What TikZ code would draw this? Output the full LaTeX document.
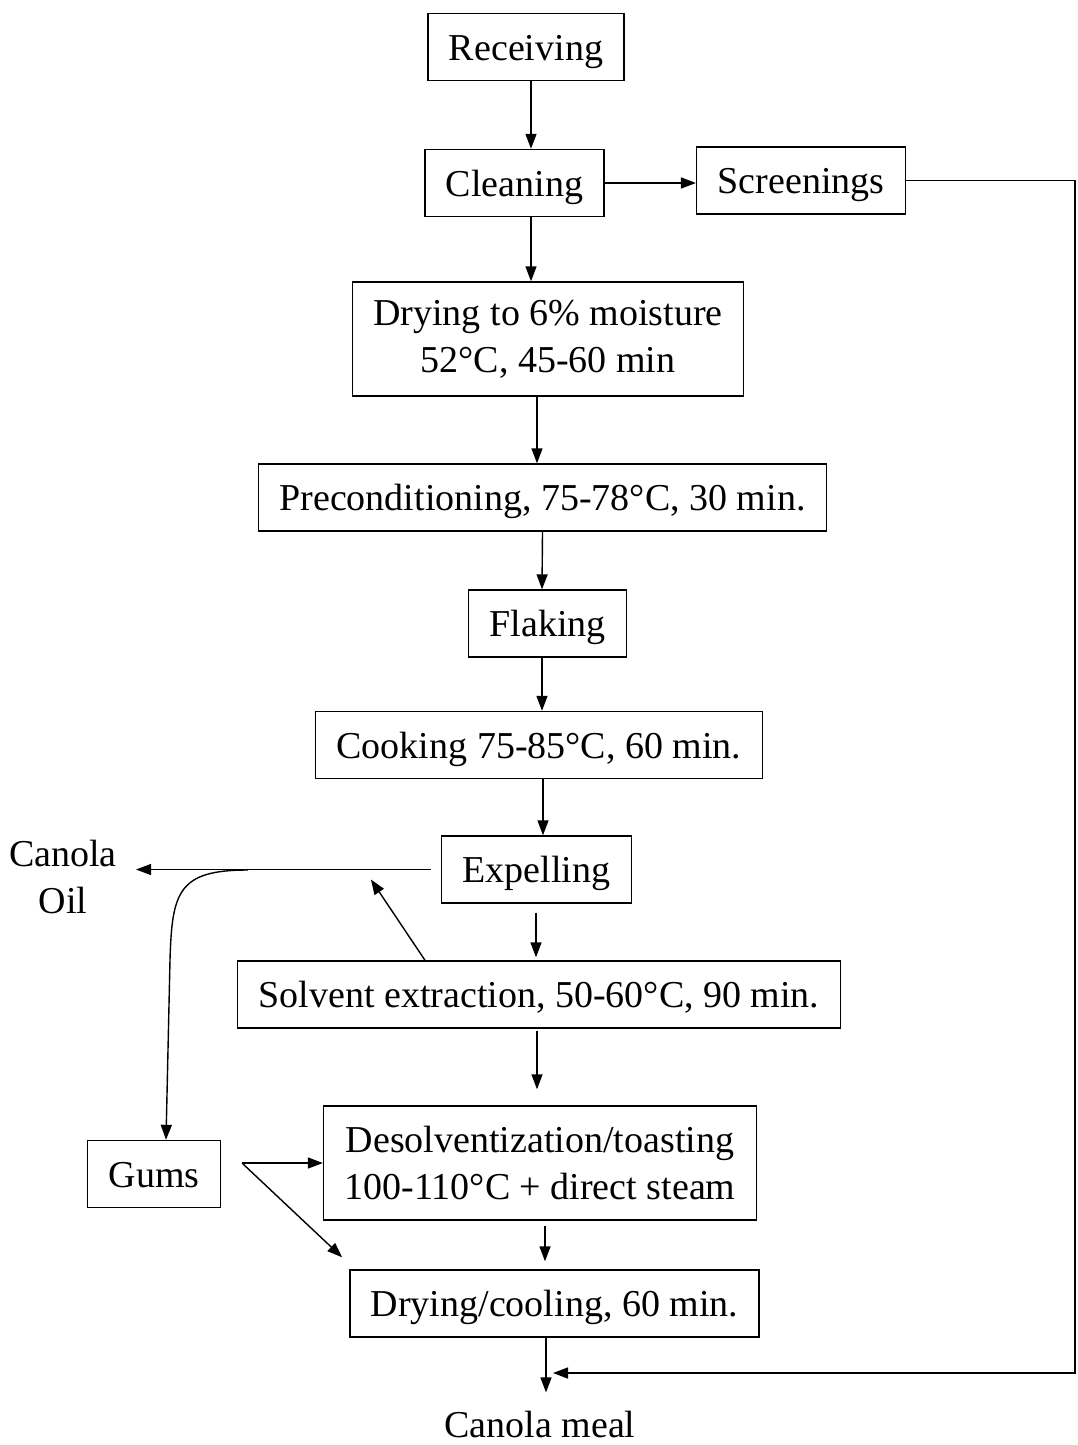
\documentclass[tikz,border=0pt]{standalone}
\usepackage{fontspec}
\setmainfont{Liberation Serif}
\usetikzlibrary{arrows.meta}

\begin{document}
\begin{tikzpicture}[x=1pt,y=-1pt,font=\fontsize{38}{47}\selectfont]
\tikzstyle{stepbox} = [rectangle, draw=black, line width=1.4pt, inner xsep=21pt, inner ysep=0pt, minimum height=67pt, text height=34pt, text depth=8pt, align=center]
\tikzstyle{tallbox} = [stepbox, minimum height=114pt, text height=, text depth=, execute at begin node={\rule{0pt}{36pt}}]
\tikzstyle{product} = [align=center, inner sep=0pt]
\tikzstyle{flow} = [-{Triangle[length=15pt,width=11pt]}, line width=1.4pt]

\useasboundingbox (0,0) rectangle (1077,1445);

\node(receiving) [stepbox] at (526,47) {Receiving};
\node(cleaning) [stepbox] at (514.5,183) {Cleaning};
\node(screenings) [stepbox] at (801,180.5) {Screenings};
\node(drying) [tallbox] at (548,339) {Drying to 6\% moisture\\52°C, 45-60 min};
\node(precond) [stepbox] at (542.5,497.5) {Preconditioning, 75-78°C, 30 min.};
\node(flaking) [stepbox] at (547.5,623.5) {Flaking};
\node(cooking) [stepbox] at (539,745) {Cooking 75-85°C, 60 min.};
\node(expelling) [stepbox] at (536.5,869.5) {Expelling};
\node(solvent) [stepbox] at (539,994.5) {Solvent extraction, 50-60°C, 90 min.};
\node(desolv) [tallbox] at (540,1163) {Desolventization/toasting\\100-110°C + direct steam};
\node(gums) [stepbox] at (154,1174) {Gums};
\node(cooling) [stepbox] at (554.5,1303.5) {Drying/cooling, 60 min.};
\node(oil) [product] at (63,877) {Canola\\Oil};
\node(meal) [product, anchor=base] at (540,1437) {Canola meal};

\coordinate(split) at (248,870);
\coordinate(fork) at (242,1163);
\coordinate(join) at (553,1373);

% main line
\draw[flow] ([xshift=5]receiving.south) -- ([xshift=16.5]cleaning.north);
\draw[flow] ([xshift=16.5]cleaning.south) -- ([xshift=-17]drying.north);
\draw[flow] ([xshift=-11]drying.south) -- ([xshift=-5.5]precond.north);
\draw[flow] (precond.south) -- ([xshift=-5.5]flaking.north);
\draw[flow] ([xshift=-5.5]flaking.south) -- ([xshift=3]cooking.north);
\draw[flow] ([xshift=4]cooking.south) -- ([xshift=6.5]expelling.north);
\draw[flow, shorten <=9pt, shorten >=3pt] ([xshift=-0.5]expelling.south) -- ([xshift=-3]solvent.north);
\draw[flow, shorten <=2pt, shorten >=16pt] ([xshift=-2]solvent.south) -- ([xshift=-3]desolv.north);
\draw[flow, shorten <=5pt, shorten >=8pt] ([xshift=5]desolv.south) -- ([xshift=-9.5]cooling.north);
\draw[flow, shorten >=18pt] ([xshift=-8.5]cooling.south) -- ([xshift=6]meal.north);

% side streams
\draw[flow] (cleaning.east) -- (cleaning.east -| screenings.west);
\draw[flow] (screenings.east) -| (1075,1373) -- (join);
\draw[flow, shorten <=10pt, shorten >=19pt] (expelling.west) -- (expelling.west -| oil.east);
\draw[flow] ([xshift=-114]solvent.north) -- ([shift={(-70,10)}]expelling.west);
\draw[flow] (split) .. controls (178,870) and (172,892) .. (170,960) -- ([xshift=12]gums.north);
\draw[flow] (fork) -- (desolv.west);
\draw[flow] (fork) -- ([shift={(-7,-12)}]cooling.north west);
\end{tikzpicture}
\end{document}
